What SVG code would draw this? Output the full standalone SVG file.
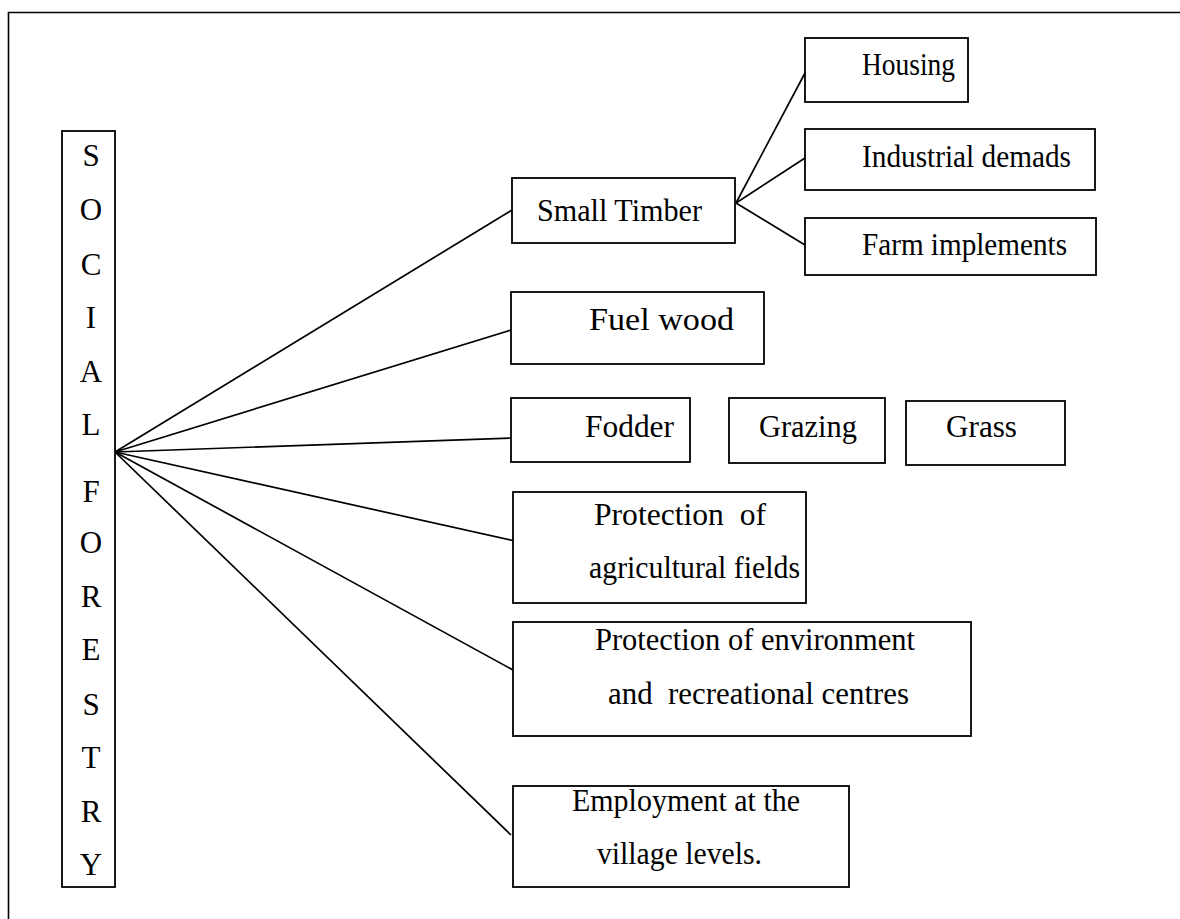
<svg xmlns="http://www.w3.org/2000/svg" width="1180" height="919" viewBox="0 0 1180 919">
<style>
.box{fill:#fff;stroke:#000;stroke-width:1.8}
.lbl{font-family:"Liberation Serif","Times New Roman",serif;font-size:31px;fill:#000;white-space:pre}
.let{font-family:"Liberation Serif","Times New Roman",serif;font-size:31px;fill:#000;text-anchor:middle}
.con{stroke:#000;stroke-width:1.7;fill:none}
</style>
<rect width="1180" height="919" fill="#fff"/>
<path d="M8.5,919 L8.5,12.5 L1180,12.5" fill="none" stroke="#000" stroke-width="1.6"/>
<g id="connectors">
<line class="con" x1="115" y1="452" x2="512" y2="210"/>
<line class="con" x1="115" y1="452" x2="511" y2="330"/>
<line class="con" x1="115" y1="452" x2="511" y2="438"/>
<line class="con" x1="115" y1="452" x2="515" y2="541"/>
<line class="con" x1="115" y1="452" x2="513" y2="670"/>
<line class="con" x1="115" y1="452" x2="511" y2="835"/>
<line class="con" x1="736" y1="203" x2="805" y2="73"/>
<line class="con" x1="736" y1="203" x2="805" y2="158"/>
<line class="con" x1="736" y1="203" x2="805" y2="245"/>
</g>
<g id="social-forestry">
<rect class="box" x="62" y="131" width="53" height="756"/>
<text class="let" x="91" y="166">S</text>
<text class="let" x="91" y="220">O</text>
<text class="let" x="91" y="275">C</text>
<text class="let" x="91" y="328">I</text>
<text class="let" x="91" y="382">A</text>
<text class="let" x="91" y="435">L</text>
<text class="let" x="91" y="502">F</text>
<text class="let" x="91" y="553">O</text>
<text class="let" x="91" y="607">R</text>
<text class="let" x="91" y="660">E</text>
<text class="let" x="91" y="715">S</text>
<text class="let" x="91" y="768">T</text>
<text class="let" x="91" y="822">R</text>
<text class="let" x="91" y="875">Y</text>
</g>
<g id="small-timber">
<rect class="box" x="512" y="178" width="223" height="65"/>
<text class="lbl" x="537" y="221" textLength="165" lengthAdjust="spacingAndGlyphs">Small Timber</text>
</g>
<g id="housing">
<rect class="box" x="805" y="38" width="163" height="64"/>
<text class="lbl" x="862" y="75" textLength="93" lengthAdjust="spacingAndGlyphs">Housing</text>
</g>
<g id="industrial">
<rect class="box" x="805" y="129" width="290" height="61"/>
<text class="lbl" x="862" y="167" textLength="209" lengthAdjust="spacingAndGlyphs">Industrial demads</text>
</g>
<g id="farm">
<rect class="box" x="805" y="218" width="291" height="57"/>
<text class="lbl" x="862" y="255" textLength="205" lengthAdjust="spacingAndGlyphs">Farm implements</text>
</g>
<g id="fuel-wood">
<rect class="box" x="511" y="292" width="253" height="72"/>
<text class="lbl" x="589" y="330" textLength="145" lengthAdjust="spacingAndGlyphs">Fuel wood</text>
</g>
<g id="fodder">
<rect class="box" x="511" y="398" width="179" height="64"/>
<text class="lbl" x="585" y="437" textLength="89" lengthAdjust="spacingAndGlyphs">Fodder</text>
</g>
<g id="grazing">
<rect class="box" x="729" y="398" width="156" height="65"/>
<text class="lbl" x="759" y="437" textLength="98" lengthAdjust="spacingAndGlyphs">Grazing</text>
</g>
<g id="grass">
<rect class="box" x="906" y="401" width="159" height="64"/>
<text class="lbl" x="946" y="437" textLength="71" lengthAdjust="spacingAndGlyphs">Grass</text>
</g>
<g id="protection-agri">
<rect class="box" x="513" y="492" width="293" height="111"/>
<text class="lbl" x="594" y="525" textLength="172" lengthAdjust="spacingAndGlyphs" xml:space="preserve">Protection  of</text>
<text class="lbl" x="589" y="578" textLength="211" lengthAdjust="spacingAndGlyphs">agricultural fields</text>
</g>
<g id="protection-env">
<rect class="box" x="513" y="622" width="458" height="114"/>
<text class="lbl" x="595" y="650" textLength="320" lengthAdjust="spacingAndGlyphs">Protection of environment</text>
<text class="lbl" x="608" y="704" textLength="301" lengthAdjust="spacingAndGlyphs" xml:space="preserve">and  recreational centres</text>
</g>
<g id="employment">
<rect class="box" x="513" y="786" width="336" height="101"/>
<text class="lbl" x="572" y="811" textLength="228" lengthAdjust="spacingAndGlyphs">Employment at the</text>
<text class="lbl" x="597" y="864" textLength="165" lengthAdjust="spacingAndGlyphs">village levels.</text>
</g>
</svg>
